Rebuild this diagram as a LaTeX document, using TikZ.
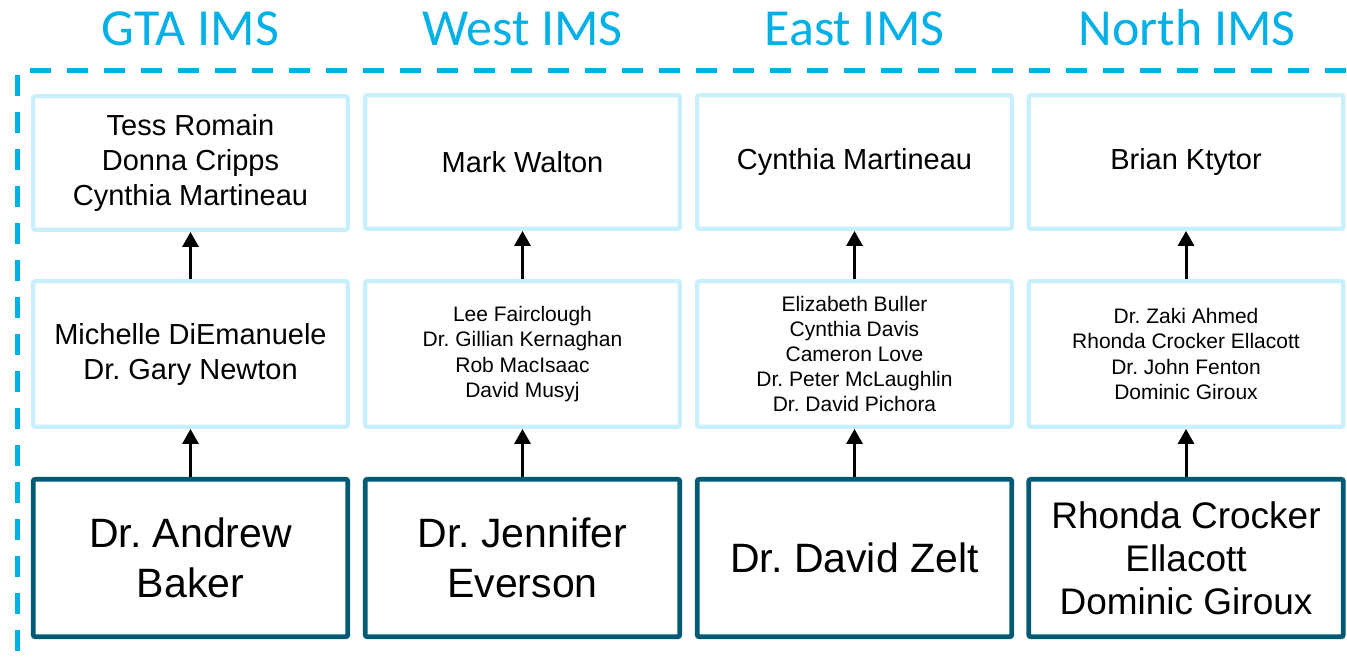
\documentclass[tikz,border=0pt]{standalone}
\usepackage{fontspec}
\setmainfont{Liberation Sans}
\newfontfamily\titlefont{Carlito}
\usetikzlibrary{arrows.meta}
\frenchspacing

\definecolor{imsblue}{RGB}{0,176,230}
\definecolor{paleline}{RGB}{200,240,252}
\definecolor{leadline}{RGB}{0,90,115}

\begin{document}
\begin{tikzpicture}[x=0.5pt, y=-0.5pt,
    imstitle/.style={font=\titlefont\fontsize{26}{30}\selectfont, text=imsblue, anchor=base, inner sep=0pt},
    palebox/.style={draw=paleline, line width=2.15pt, rounded corners=1pt, minimum width=157.25pt, align=center, inner sep=0pt},
    leadbox/.style={draw=leadline, line width=2.35pt, rounded corners=1pt, minimum width=157.25pt, minimum height=78.75pt, align=center, inner sep=0pt},
    namesbig/.style={font=\fontsize{14.5}{17.5}\selectfont},
    namessmall/.style={font=\fontsize{10.5}{12.6}\selectfont},
    reports/.style={-{Triangle[width=8pt, length=7.5pt]}, line width=1.5pt}]

    \useasboundingbox (0,0) rectangle (1347,661);

    % frame round the four regions
    \draw [imsblue, line width=2.5pt, dash pattern=on 10.5pt off 8pt] (17,75) -- (17,700);
    \draw [imsblue, line width=2.5pt, dash pattern=on 10.5pt off 8pt] (30,70.5) -- (1360,70.5);

    % region titles
    \node [imstitle] (gtaT) at (190.5,45) {GTA IMS};
    \node [imstitle] (westT) at (522.5,45) {West IMS};
    \node [imstitle] (eastT) at (854.5,45) {East IMS};
    \node [imstitle] (northT) at (1187,45) {North IMS};

    % top row
    \node [palebox, namesbig, minimum height=66.75pt] (gtaTop) at (190.5,163) {Tess Romain\\Donna Cripps\\Cynthia Martineau};
    \node [palebox, namesbig, minimum height=66.75pt] (westTop) at (522.5,162) {Mark Walton};
    \node [palebox, namesbig, minimum height=66.75pt] (eastTop) at (854.5,162) {Cynthia Martineau};
    \node [palebox, namesbig, minimum height=66.75pt] (northTop) at (1186,162) {Brian Ktytor};

    % middle row
    \node [palebox, namesbig, minimum height=72.75pt] (gtaMid) at (190.5,354) {Michelle DiEmanuele\\Dr. Gary Newton};
    \node [palebox, namessmall, minimum height=72.75pt] (westMid) at (522.5,354) {Lee Fairclough\\Dr. Gillian Kernaghan\\Rob MacIsaac\\David Musyj};
    \node [palebox, namessmall, minimum height=72.75pt] (eastMid) at (854.5,354) {Elizabeth Buller\\Cynthia Davis\\Cameron Love\\Dr. Peter McLaughlin\\Dr. David Pichora};
    \node [palebox, namessmall, minimum height=72.75pt] (northMid) at (1186,354) {Dr. Zaki Ahmed\\Rhonda Crocker Ellacott\\Dr. John Fenton\\Dominic Giroux};

    % bottom row
    \node [leadbox, font=\fontsize{20.5}{25}\selectfont] (gtaLead) at (190.5,558) {Dr. Andrew\\Baker};
    \node [leadbox, font=\fontsize{20.5}{25}\selectfont] (westLead) at (522.5,558) {Dr. Jennifer\\Everson};
    \node [leadbox, font=\fontsize{20.5}{25}\selectfont] (eastLead) at (854.5,558) {Dr. David Zelt};
    \node [leadbox, font=\fontsize{18.5}{21.5}\selectfont] (northLead) at (1186,558) {Rhonda Crocker\\Ellacott\\Dominic Giroux};

    \foreach \region in {gta, west, east, north} {
        \draw [reports] (\region Lead) -- (\region Mid);
        \draw [reports] (\region Mid) -- (\region Top);
    }
\end{tikzpicture}
\end{document}
